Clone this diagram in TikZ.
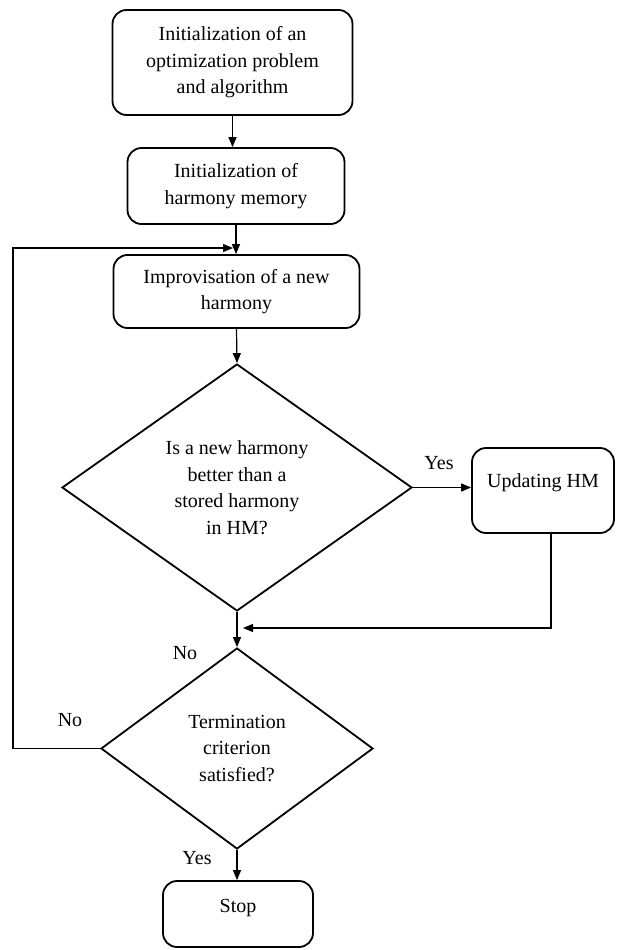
\documentclass[tikz,border=0pt]{standalone}
\usepackage{fontspec}
\setmainfont{Liberation Serif}
\usetikzlibrary{shapes.geometric,arrows.meta}
\begin{document}
\begin{tikzpicture}[x=1pt,y=-1pt,
  txt/.style={font=\fontsize{20}{26.5}\selectfont, align=center, inner sep=0pt},
  proc/.style={txt, draw, line width=1.8pt, rounded corners=14pt},
  decide/.style={txt, draw, line width=1.8pt, shape=diamond},
  conn/.style={line width=1.2pt},
  arr/.style={conn, -{Triangle[length=10pt,width=8pt]}},
  lbl/.style={txt}
]
\useasboundingbox (0,0) rectangle (616,950);

% process boxes
\node[proc, minimum width=240pt, minimum height=105pt] (init) at (232.5,62.5)
  {Initialization of an\\optimization problem\\and algorithm};
\node[proc, minimum width=217pt, minimum height=76pt] (hm) at (236,186)
  {Initialization of\\harmony memory};
\node[proc, minimum width=246pt, minimum height=73pt] (impro) at (236.5,291.5)
  {Improvisation of a new\\harmony};

% decisions
\node[decide, minimum width=350pt, minimum height=247pt, aspect=1.417] (better) at (237,487.5)
  {Is a new harmony\\better than a\\stored harmony\\in HM?};
\node[decide, minimum width=272pt, minimum height=201pt, aspect=1.353] (term) at (237,748.5)
  {Termination\\criterion\\satisfied?};

% update box, text sits in its upper part
\node[proc, minimum width=142pt, minimum height=85pt] (upd) at (543,490.5) {};
\node[txt] (updtxt) at ([yshift=8pt]upd.center) {Updating HM};

% stop box
\node[proc, minimum width=150pt, minimum height=66pt] (stop) at (238,914) {};
\node[txt] (stoptxt) at ([yshift=6pt]stop.center) {Stop};

% auxiliary points of the connectors
\coordinate (merge) at (243,628);
\coordinate (loopcorner) at (13,248);
\coordinate (loopend) at (233,248);

% main flow
\draw[arr] (init.south) -- (init.south |- hm.north);
\draw[arr] (hm.south) -- (hm.south |- impro.north);
\draw[arr] (impro.south) -- (better.north);
\draw[arr] (better.east) -- (better.east -| upd.west);
\draw[arr] ([xshift=8pt]upd.south) |- (merge);
\draw[arr] (better.south) -- (term.north);
\draw[arr] (term.south) -- (term.south |- stop.north);
\draw[arr] (term.west) -| (loopcorner) -- (loopend);

% branch labels
\node[lbl] (yes1) at (439,463) {Yes};
\node[lbl] (no1) at (185,653) {No};
\node[lbl] (no2) at (70,720) {No};
\node[lbl] (yes2) at (197,858) {Yes};
\end{tikzpicture}
\end{document}
